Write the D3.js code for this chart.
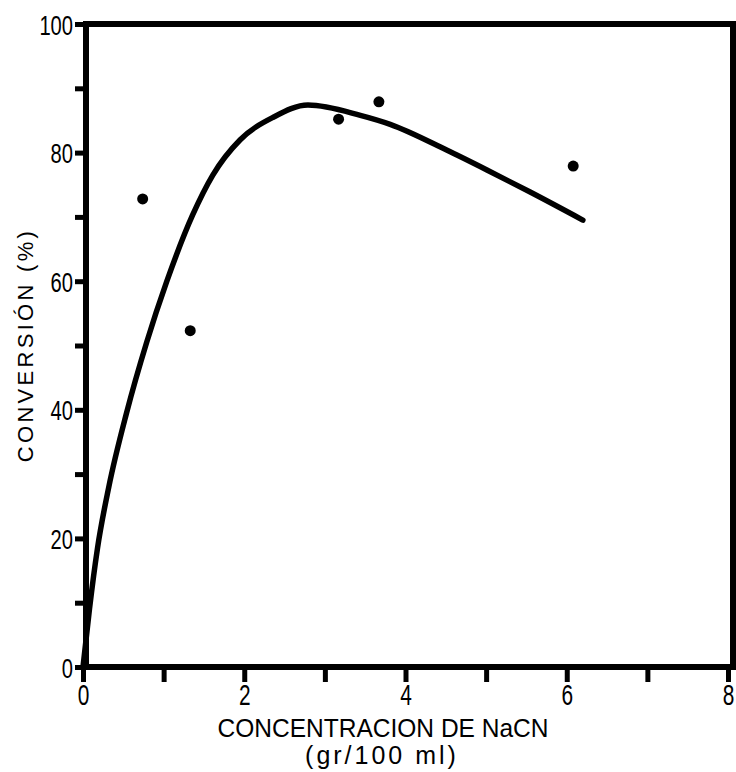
<!DOCTYPE html>
<html>
<head>
<meta charset="utf-8">
<script src="https://cdn.jsdelivr.net/npm/d3@7"></script>
<style>
  html, body { margin: 0; padding: 0; background: #fff; }
  svg { display: block; }
</style>
</head>
<body>
<svg id="chart" width="736" height="772"></svg>
<script>
// ---- data ----
const xTickValues = [0, 1, 2, 3, 4, 5, 6, 7, 8];
const xTickLabels = ["0", "", "2", "", "4", "", "6", "", "8"];
const yTickValues = [0, 10, 20, 30, 40, 50, 60, 70, 80, 90, 100];
const yTickLabels = ["0", "", "20", "", "40", "", "60", "", "80", "", "100"];

// measured points (concentration g/100 ml, conversion %)
const pointX = [0.74, 1.33, 3.17, 3.67, 6.08];
const pointY = [72.8, 52.3, 85.2, 87.9, 77.9];

// fitted curve
const curveX = [0, 0.08, 0.18, 0.32, 0.54, 0.79, 1.04, 1.36, 1.61, 1.95, 2.36, 2.79, 3.44, 3.81, 4.51, 5.01, 5.54, 6.20];
const curveY = [0, 9.0, 18.5, 28.0, 39.5, 50.5, 60.0, 70.3, 76.5, 82.0, 85.5, 87.4, 85.8, 84.4, 80.4, 77.3, 73.9, 69.5];

const xTitle = "CONCENTRACION DE NaCN";
const xTitle2 = "(gr/100 ml)";
const yTitle = "CONVERSIÓN (%)";

// ---- drawing ----
const svg = d3.select("#chart");
const x = d3.scaleLinear().domain([0, 8]).range([83, 728]);
const y = d3.scaleLinear().domain([0, 100]).range([667, 24]);

const sans = "'Liberation Sans', Arial, Helvetica, sans-serif";
const sx = 0.72; // horizontal squeeze for the condensed lettering

// frame
svg.append("rect")
  .attr("x", x(0) + 3).attr("y", y(100))
  .attr("width", x(8) + 5 - (x(0) + 3)).attr("height", y(0) - y(100))
  .attr("fill", "none").attr("stroke", "#000").attr("stroke-width", 6);

// x axis
const xAxis = svg.append("g")
  .attr("transform", `translate(0,${y(0)})`)
  .call(d3.axisBottom(x).tickValues(xTickValues).tickSize(15).tickPadding(4)
    .tickFormat((d, i) => xTickLabels[i]));
xAxis.select(".domain").remove();
xAxis.selectAll(".tick line").attr("stroke", "#000").attr("stroke-width", 5);
xAxis.selectAll(".tick text")
  .attr("dy", null).attr("y", 38)
  .attr("transform", `scale(${sx},1)`)
  .attr("font-family", sans).attr("font-size", 29).attr("fill", "#000");

// y axis
const yAxis = svg.append("g")
  .attr("transform", `translate(${x(0) + 3},0)`)
  .call(d3.axisLeft(y).tickValues(yTickValues).tickSize(11).tickPadding(2)
    .tickFormat((d, i) => yTickLabels[i]));
yAxis.select(".domain").remove();
yAxis.selectAll(".tick line").attr("stroke", "#000").attr("stroke-width", 5);
yAxis.selectAll(".tick text")
  .attr("dy", "0.36em")
  .attr("x", -13 / sx)
  .attr("transform", `scale(${sx},1)`)
  .attr("font-family", sans).attr("font-size", 28).attr("fill", "#000");

// curve
const line = d3.line()
  .x(d => x(d[0])).y(d => y(d[1]))
  .curve(d3.curveMonotoneX);
svg.append("path")
  .datum(curveX.map((v, i) => [v, curveY[i]]))
  .attr("d", line)
  .attr("fill", "none").attr("stroke", "#000")
  .attr("stroke-width", 5.5).attr("stroke-linejoin", "round").attr("stroke-linecap", "round");

// points
svg.append("g").selectAll("circle")
  .data(pointX.map((v, i) => [v, pointY[i]]))
  .join("circle")
  .attr("cx", d => x(d[0])).attr("cy", d => y(d[1]))
  .attr("r", 5.5).attr("fill", "#000");

// titles
svg.append("text")
  .attr("x", 383).attr("y", 737)
  .attr("text-anchor", "middle")
  .attr("font-family", sans).attr("font-size", 25)
  .attr("textLength", 331).attr("lengthAdjust", "spacingAndGlyphs")
  .text(xTitle);
svg.append("text")
  .attr("x", 382).attr("y", 764)
  .attr("text-anchor", "middle")
  .attr("font-family", sans).attr("font-size", 25)
  .attr("letter-spacing", 3)
  .text(xTitle2);
svg.append("text")
  .attr("transform", "translate(33,345) rotate(-90)")
  .attr("text-anchor", "middle")
  .attr("font-family", sans).attr("font-size", 22)
  .attr("letter-spacing", 3.3)
  .text(yTitle);
</script>
</body>
</html>
